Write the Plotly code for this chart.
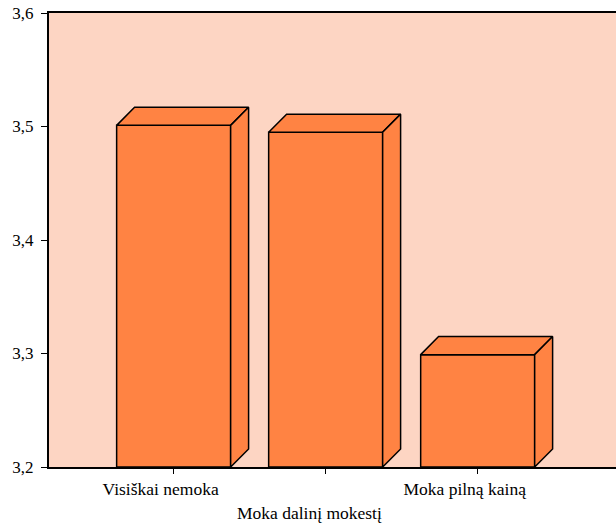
import plotly.graph_objects as go

categories = ["Visiškai nemoka", "", "Moka pilną kainą"]
values = [3.501, 3.495, 3.299]
y_ticks = [3.2, 3.3, 3.4, 3.5, 3.6]

BAR = "#FF8343"
BG = "#FDD5C3"
base = 3.2
w = 0.75        # bar width in category units
dx = 0.118      # depth offset along x
dy = 0.0159     # depth offset along y

xs = list(range(len(categories)))

fig = go.Figure()
fig.add_trace(go.Bar(
    x=xs, y=[v - base for v in values], base=base, width=w,
    marker=dict(color=BAR, line=dict(color="black", width=1.5)),
    hoverinfo="skip", showlegend=False))

# fake 3d: top and side faces
for x, v in zip(xs, values):
    l, r = x - w / 2, x + w / 2
    fig.add_trace(go.Scatter(
        x=[l, r, r + dx, l + dx, l], y=[v, v, v + dy, v + dy, v],
        mode="lines", fill="toself", fillcolor=BAR,
        line=dict(color="black", width=1.5), hoverinfo="skip", showlegend=False))
    fig.add_trace(go.Scatter(
        x=[r, r + dx, r + dx, r, r], y=[base, base + dy, v + dy, v, base],
        mode="lines", fill="toself", fillcolor=BAR,
        line=dict(color="black", width=1.5), hoverinfo="skip", showlegend=False))

fig.update_layout(
    width=616, height=523,
    margin=dict(l=49, r=0, t=13, b=56),
    paper_bgcolor="white", plot_bgcolor=BG,
    separators=",.",
    font=dict(family="Times New Roman, Liberation Serif, DejaVu Serif, serif",
              size=17.5, color="black"),
    xaxis=dict(range=[-0.82, 2.91], tickvals=xs, ticktext=categories,
               showgrid=False, zeroline=False, showline=True, linecolor="black",
               linewidth=2, mirror=True, ticks="outside", ticklen=5, tickcolor="black",
               ticklabelshift=-13),
    yaxis=dict(range=[3.2, 3.6], tickvals=y_ticks, tickformat=".1f",
               showgrid=False, zeroline=False, showline=True, linecolor="black",
               linewidth=2, ticks="outside", ticklen=6, tickcolor="black",
               tickfont=dict(size=17), ticklabelstandoff=4),
    annotations=[dict(text="Moka dalinį mokestį", xref="paper", yref="paper",
                      x=0.4586, y=-0.074, xanchor="center", yanchor="top",
                      showarrow=False, font=dict(size=17.5))],
)

# drop the default 8px body margin so the figure fills the window
fig.write_html("out.html", config={"displayModeBar": False},
               post_script="document.body.style.margin='0';document.body.style.overflow='hidden';")
